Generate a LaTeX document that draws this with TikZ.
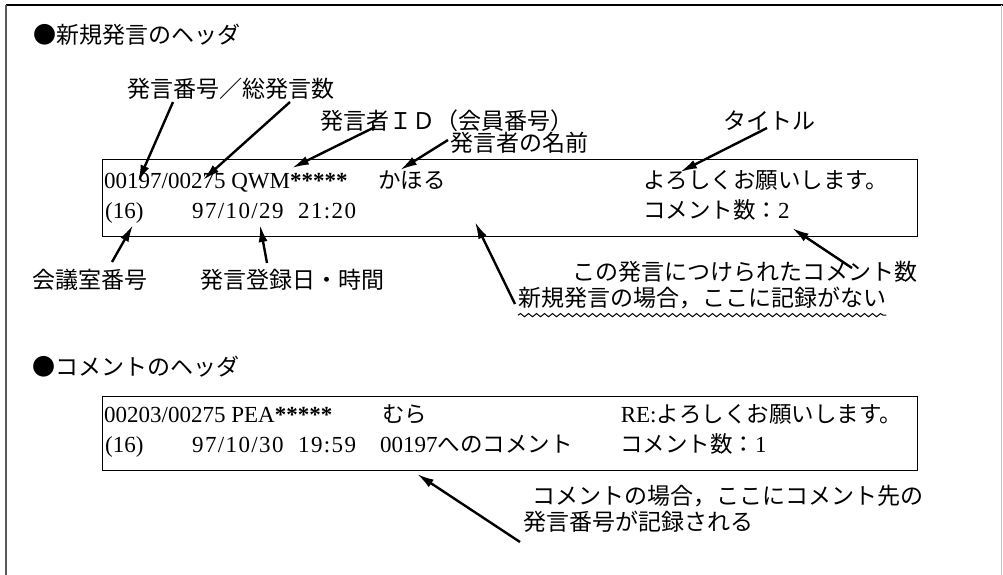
\documentclass[tikz,border=0pt]{standalone}
\usepackage{fontspec}
\setmainfont{Liberation Serif}
\newfontfamily\jp{Noto Sans CJK JP}
\newfontfamily\lsp{Liberation Serif}[LetterSpace=6]
\usetikzlibrary{arrows.meta,decorations.pathmorphing}
\tikzset{
  jl/.style={inner sep=0pt, font=\jp\fontsize{23}{27}\selectfont},
  rt/.style={inner sep=0pt, font=\fontsize{23}{27}\selectfont},
  rtj/.style={inner sep=0pt, font=\jp\fontsize{22.5}{27}\selectfont},
  rts/.style={inner sep=0pt, font=\lsp\fontsize{23}{27}\selectfont},
  hbox/.style={draw, line width=1.4pt, inner sep=0pt, anchor=north west},
  arr/.style={line width=2.4pt, -{Latex[length=17pt,width=9pt]}},
}
\begin{document}
\begin{tikzpicture}[x=1pt,y=-1pt]
\useasboundingbox (0,0) rectangle (1003,575);
% outer frame
\draw[line width=2pt] (6,5) -- (1003,5);
\draw[line width=2pt, gray!70!black] (6,5) -- (6,575);
\draw[line width=1pt, gray!45] (1001,5) -- (1001,575);

% ---- new post header ----
\node[jl, anchor=west] (t1) at (33,35) {●新規発言のヘッダ};
\node[jl, anchor=west] (labnum) at (127,89) {発言番号／総発言数};
\node[jl, anchor=west] (labid) at (320,121) {発言者ＩＤ（会員番号）};
\node[jl, anchor=west] (labname) at (450,143) {発言者の名前};
\node[jl, anchor=west] (labtitle) at (723,121) {タイトル};

\node[hbox, minimum width=815pt, minimum height=77pt] (box1) at (102,159) {};
\node[rt, anchor=base west] (r1a) at (104,188) {00197/00275 QWM\textbf{*****}};
\node[rtj, anchor=base west] (r1b) at (378,188) {かほる};
\node[rtj, anchor=base west] (r1c) at (643,188) {よろしくお願いします。};
\node[rt, anchor=base west] (r2a) at (105,218) {(16)};
\node[rts, anchor=base west] (r2b) at (192,218) {97/10/29};
\node[rts, anchor=base west] (r2c) at (298,218) {21:20};
\node[rt, anchor=base west] (r2d) at (643,218) {{\jp\fontsize{22.5}{27}\selectfont コメント数：}2};

\node[jl, anchor=west] (labroom) at (32,280) {会議室番号};
\node[jl, anchor=west] (labdate) at (200,280) {発言登録日・時間};
\node[jl, anchor=east] (labcnt) at (918,272) {この発言につけられたコメント数};
\node[jl, anchor=west] (labnone) at (518,298) {新規発言の場合，ここに記録がない};
\draw[line width=1pt, decorate, decoration={snake, amplitude=1.6pt, segment length=8pt}]
  (labnone.south west) ++(0,6) coordinate (wv1) -- (wv1 -| labnone.south east);

% arrow end points
\coordinate (a1s) at (173,102); \coordinate (a1t) at (138,182);
\coordinate (a2s) at (290,102); \coordinate (a2t) at (203,180);
\coordinate (a3s) at (375,127); \coordinate (a3t) at (292,168);
\coordinate (a4s) at (448,140); \coordinate (a4t) at (400,170);
\coordinate (a5s) at (767,128); \coordinate (a5t) at (680,172);
\coordinate (a6s) at (112,262); \coordinate (a6t) at (133,225);
\coordinate (a7s) at (267,263); \coordinate (a7t) at (260,225);
\coordinate (a8s) at (515,304); \coordinate (a8t) at (475,222);
\coordinate (a9s) at (852,268); \coordinate (a9t) at (792,228);
\draw[arr] (a1s) -- (a1t);
\draw[arr] (a2s) -- (a2t);
\draw[arr] (a3s) -- (a3t);
\draw[arr] (a4s) -- (a4t);
\draw[arr] (a5s) -- (a5t);
\draw[arr] (a6s) -- (a6t);
\draw[arr] (a7s) -- (a7t);
\draw[arr] (a8s) -- (a8t);
\draw[arr] (a9s) -- (a9t);

% ---- comment header ----
\node[jl, anchor=west] (t2) at (32,367) {●コメントのヘッダ};
\node[hbox, minimum width=815pt, minimum height=74pt] (box2) at (102,396) {};
\node[rt, anchor=base west] (s1a) at (104,422) {00203/00275 PEA\textbf{*****}};
\node[rtj, anchor=base west] (s1b) at (382,422) {むら};
\node[rt, anchor=base east] (s1c) at (902,422) {RE:{\jp\fontsize{22.5}{27}\selectfont よろしくお願いします。}};
\node[rt, anchor=base west] (s2a) at (105,452) {(16)};
\node[rts, anchor=base west] (s2b) at (192,452) {97/10/30};
\node[rts, anchor=base west] (s2c) at (298,452) {19:59};
\node[rt, anchor=base west] (s2d) at (380,452) {00197{\jp\fontsize{22.5}{27}\selectfont へのコメント}};
\node[rt, anchor=base west] (s2e) at (620,452) {{\jp\fontsize{22.5}{27}\selectfont コメント数：}1};

\node[jl, anchor=west] (labc1) at (532,496) {コメントの場合，ここにコメント先の};
\node[jl, anchor=west] (labc2) at (523,522) {発言番号が記録される};
\coordinate (a10s) at (520,542); \coordinate (a10t) at (417,474);
\draw[arr] (a10s) -- (a10t);
\end{tikzpicture}
\end{document}
